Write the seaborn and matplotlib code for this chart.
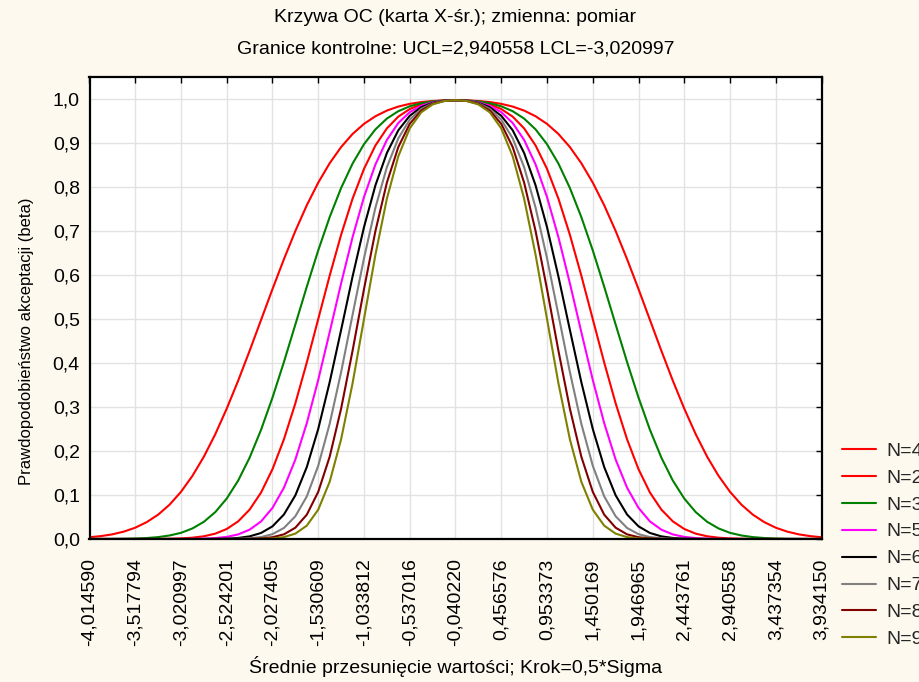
import matplotlib
matplotlib.use("Agg")
import matplotlib.pyplot as plt
import pandas as pd
import seaborn as sns

TITLE = "Krzywa OC (karta X-śr.); zmienna: pomiar"
SUBTITLE = "Granice kontrolne: UCL=2,940558 LCL=-3,020997"
X_LABEL = "Średnie przesunięcie wartości; Krok=0,5*Sigma"
Y_LABEL = "Prawdopodobieństwo akceptacji (beta)"

# x axis: centre line and step (Krok = 0,5 * Sigma)
CENTER = -0.040220
STEP = 0.496796
X_TICK_LABELS = ["-4,014590", "-3,517794", "-3,020997", "-2,524201", "-2,027405",
                 "-1,530609", "-1,033812", "-0,537016", "-0,040220", "0,456576",
                 "0,953373", "1,450169", "1,946965", "2,443761", "2,940558",
                 "3,437354", "3,934150"]
Y_TICKS = [0.0, 0.1, 0.2, 0.3, 0.4, 0.5, 0.6, 0.7, 0.8, 0.9, 1.0]
Y_TICK_LABELS = ["0,0", "0,1", "0,2", "0,3", "0,4", "0,5", "0,6", "0,7", "0,8", "0,9", "1,0"]

# shift of the mean from the centre line, in sigma (one side; curves are symmetric)
SHIFT = [0.0, 0.125, 0.25, 0.375, 0.5, 0.625, 0.75, 0.875, 1.0, 1.125, 1.25,
         1.375, 1.5, 1.625, 1.75, 1.875, 2.0, 2.125, 2.25, 2.375, 2.5, 2.625,
         2.75, 2.875, 3.0, 3.125, 3.25, 3.375, 3.5, 3.625, 3.75, 3.875, 4.0]

# probability of acceptance
BETA_N2 = [0.9973, 0.9969, 0.9955, 0.9930, 0.9890, 0.9828, 0.9737, 0.9608, 0.9435,
           0.9205, 0.8908, 0.8541, 0.8100, 0.7586, 0.7001, 0.6360, 0.5681, 0.4979,
           0.4278, 0.3599, 0.2964, 0.2383, 0.1871, 0.1435, 0.1073, 0.0780, 0.0553,
           0.0383, 0.0257, 0.0168, 0.0106, 0.0066, 0.0040]
BETA_N3 = [0.9973, 0.9966, 0.9945, 0.9904, 0.9834, 0.9723, 0.9555, 0.9310, 0.8973,
           0.8532, 0.7978, 0.7317, 0.6561, 0.5735, 0.4876, 0.4023, 0.3215, 0.2482,
           0.1849, 0.1329, 0.0920, 0.0612, 0.0391, 0.0240, 0.0140, 0.0080, 0.0043,
           0.0022, 0.0011, 0.0005, 0.0002, 0.0001, 0.0]
BETA_N4 = [0.9973, 0.9964, 0.9936, 0.9877, 0.9772, 0.9599, 0.9332, 0.8944, 0.8413,
           0.7734, 0.6915, 0.5987, 0.5000, 0.4013, 0.3085, 0.2266, 0.1587, 0.1056,
           0.0668, 0.0401, 0.0228, 0.0122, 0.0062, 0.0030, 0.0013, 0.0006, 0.0002,
           0.0001, 0.0, 0.0, 0.0, 0.0, 0.0]
BETA_N5 = [0.9973, 0.9962, 0.9925, 0.9845, 0.9701, 0.9455, 0.9069, 0.8513, 0.7773,
           0.6858, 0.5812, 0.4703, 0.3618, 0.2634, 0.1807, 0.1166, 0.0707, 0.0399,
           0.0212, 0.0104, 0.0048, 0.0021, 0.0008, 0.0003, 0.0001, 0.0, 0.0,
           0.0, 0.0, 0.0, 0.0, 0.0, 0.0]
BETA_N6 = [0.9973, 0.9960, 0.9913, 0.9812, 0.9619, 0.9289, 0.8773, 0.8039, 0.7088,
           0.5964, 0.4753, 0.3566, 0.2503, 0.1636, 0.0993, 0.0557, 0.0288, 0.0137,
           0.0060, 0.0024, 0.0009, 0.0003, 0.0001, 0.0, 0.0, 0.0, 0.0,
           0.0, 0.0, 0.0, 0.0, 0.0, 0.0]
BETA_N7 = [0.9973, 0.9957, 0.9901, 0.9776, 0.9531, 0.9106, 0.8450, 0.7532, 0.6382,
           0.5094, 0.3794, 0.2620, 0.1666, 0.0969, 0.0517, 0.0251, 0.0110, 0.0044,
           0.0016, 0.0005, 0.0002, 0.0, 0.0, 0.0, 0.0, 0.0, 0.0,
           0.0, 0.0, 0.0, 0.0, 0.0, 0.0]
BETA_N8 = [0.9973, 0.9955, 0.9890, 0.9737, 0.9435, 0.8908, 0.8100, 0.7001, 0.5681,
           0.4278, 0.2964, 0.1871, 0.1073, 0.0553, 0.0257, 0.0106, 0.0040, 0.0013,
           0.0004, 0.0001, 0.0, 0.0, 0.0, 0.0, 0.0, 0.0, 0.0,
           0.0, 0.0, 0.0, 0.0, 0.0, 0.0]
BETA_N9 = [0.9973, 0.9953, 0.9877, 0.9696, 0.9332, 0.8698, 0.7734, 0.6462, 0.5000,
           0.3538, 0.2266, 0.1302, 0.0668, 0.0304, 0.0122, 0.0043, 0.0013, 0.0004,
           0.0001, 0.0, 0.0, 0.0, 0.0, 0.0, 0.0, 0.0, 0.0,
           0.0, 0.0, 0.0, 0.0, 0.0, 0.0]

SERIES_LABELS = ["N=4", "N=2", "N=3", "N=5", "N=6", "N=7", "N=8", "N=9"]
SERIES_VALUES = [BETA_N4, BETA_N2, BETA_N3, BETA_N5, BETA_N6, BETA_N7, BETA_N8, BETA_N9]
SERIES_COLORS = ["#ff0000", "#ff0000", "#008000", "#ff00ff", "#000000",
                 "#808080", "#800000", "#808000"]

BG = "#fdf9ef"
FS = 14

rows = []
for label, half in zip(SERIES_LABELS, SERIES_VALUES):
    # mirror the one-sided reading to both sides of the centre line
    shifts = [-s for s in SHIFT[:0:-1]] + SHIFT
    betas = half[:0:-1] + half
    for s, b in zip(shifts, betas):
        rows.append({"x": CENTER + 2 * STEP * s, "beta": b, "curve": label})
df = pd.DataFrame(rows)

sns.set_theme(style="white")
plt.rcParams["font.family"] = ["Liberation Sans", "DejaVu Sans"]

W, H = 919, 682
fig = plt.figure(figsize=(W / 100, H / 100), dpi=100, facecolor=BG)
left, right, top, bottom = 89.5, 821.5, 77, 539
ax = fig.add_axes([left / W, 1 - bottom / H, (right - left) / W, (bottom - top) / H])
ax.set_facecolor("white")

sns.lineplot(data=df, x="x", y="beta", hue="curve", hue_order=SERIES_LABELS,
             palette=SERIES_COLORS, estimator=None, sort=False, linewidth=1.5, ax=ax)

x_ticks = [CENTER + STEP * (i - 8) for i in range(len(X_TICK_LABELS))]
ax.set_xlim(x_ticks[0], x_ticks[-1])
ax.set_ylim(0, 1.05)
ax.set_xticks(x_ticks)
ax.set_xticklabels(X_TICK_LABELS, rotation=90)
ax.set_yticks(Y_TICKS)
ax.set_yticklabels(Y_TICK_LABELS)

ax.grid(True, color="#e2e2e2", linewidth=1.0)
ax.set_axisbelow(True)
for sp in ax.spines.values():
    sp.set_color("black")
    sp.set_linewidth(1.6)

ax.tick_params(direction="in", length=4, width=1, color="black", top=True, right=True,
               labelsize=FS, labelcolor="black")
ax.tick_params(axis="x", pad=14)
ax.tick_params(axis="y", pad=7)

ax.set_xlabel(X_LABEL, fontsize=FS, color="black", labelpad=7)
ax.set_ylabel("")
fig.text(27 / W, 1 - 341 / H, Y_LABEL, rotation=90, ha="center", va="center",
         fontsize=12, color="black")

fig.text((left + right) / 2 / W, 1 - 18 / H, TITLE, ha="center", va="center",
         fontsize=FS, color="black")
fig.text((left + right) / 2 / W, 1 - 49 / H, SUBTITLE, ha="center", va="center",
         fontsize=FS, color="black")

handles, labels = ax.get_legend_handles_labels()
ax.get_legend().remove()
fig.legend(handles, labels, loc="upper left", bbox_to_anchor=(841.7 / W, 1 - 442 / H),
           frameon=False, fontsize=FS, handlelength=1.75, handletextpad=0.55,
           labelspacing=0.48, borderpad=0, borderaxespad=0)

fig.savefig("out.png", dpi=100, facecolor=BG)
